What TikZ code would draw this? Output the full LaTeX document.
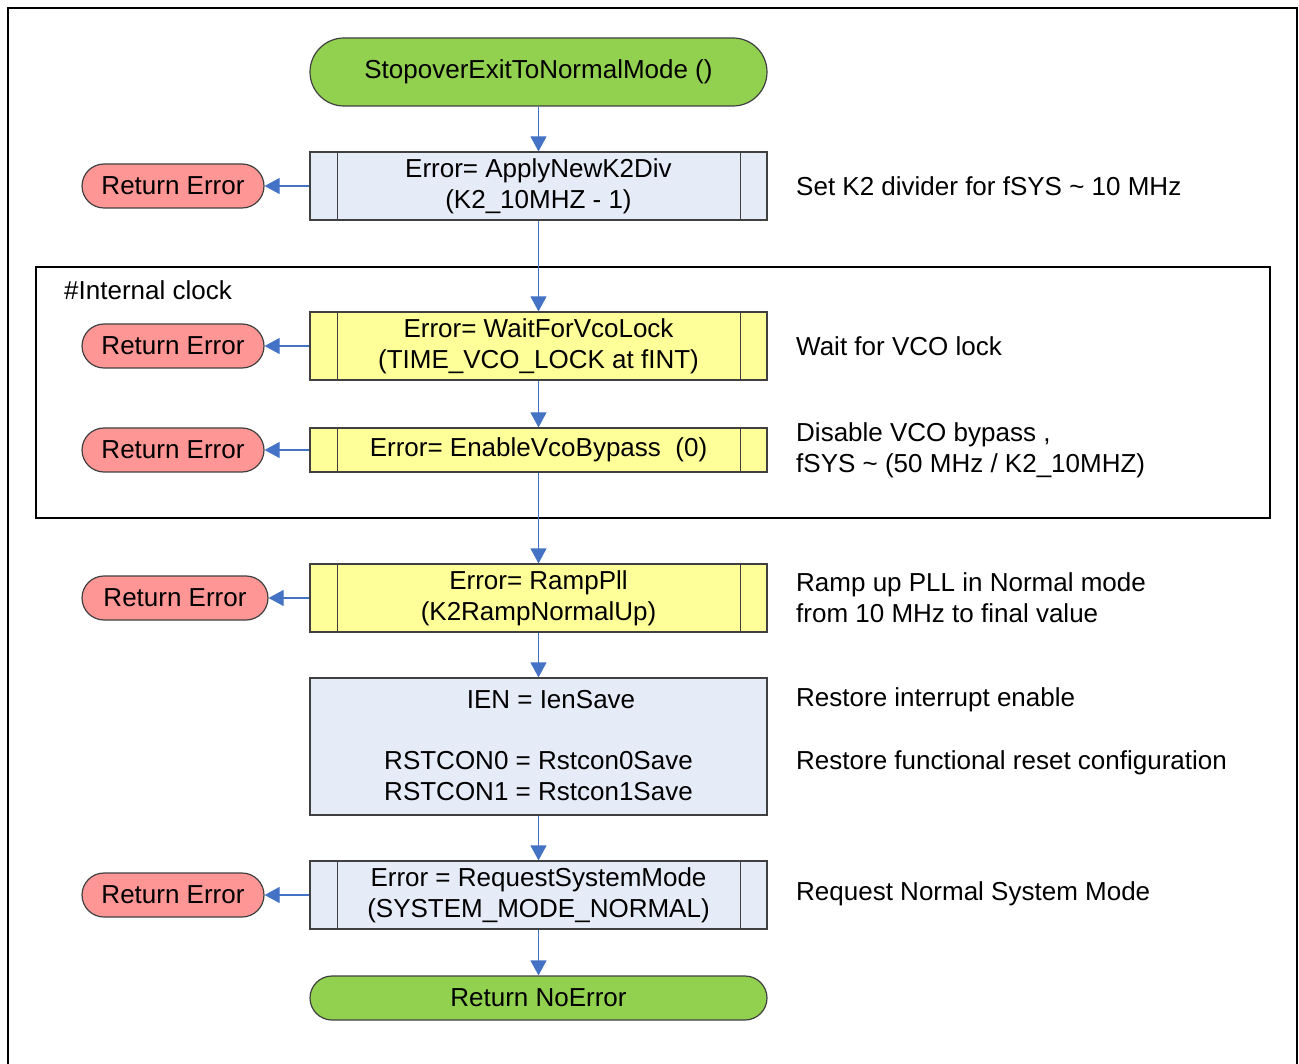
\documentclass[tikz,border=0pt]{standalone}
\usepackage{fontspec}
\setmainfont{Liberation Sans}
\usetikzlibrary{arrows.meta}
\definecolor{termgreen}{RGB}{146,208,80}
\definecolor{errred}{RGB}{255,150,150}
\definecolor{procblue}{RGB}{230,236,247}
\definecolor{procyellow}{RGB}{255,255,153}
\definecolor{linkblue}{RGB}{68,114,196}
\definecolor{edge}{RGB}{64,64,64}
\tikzset{
  every node/.style={font=\fontsize{26}{31}\selectfont, inner sep=0pt},
  terminal/.style={draw=edge, line width=1.2pt, fill=termgreen, minimum width=457pt, align=center},
  errnode/.style={draw=edge, line width=1.2pt, fill=errred, minimum width=182pt, minimum height=44pt, rounded corners=22pt},
  procbox/.style={draw=edge, line width=1.2pt, minimum width=457pt, align=center},
  note/.style={anchor=west, align=left},
  link/.style={draw=linkblue, line width=1.2pt, -{Triangle[length=15pt,width=16pt]}},
  frameline/.style={draw=black, line width=2.6pt}
}
\newcommand{\sidebars}[1]{%
  \draw[edge, line width=1.2pt] ([xshift=28pt]#1.north west) -- ([xshift=28pt]#1.south west);
  \draw[edge, line width=1.2pt] ([xshift=-27pt]#1.north east) -- ([xshift=-27pt]#1.south east);}
\begin{document}
\begin{tikzpicture}[x=1pt, y=-1pt]
\useasboundingbox (0,0) rectangle (1299,1064);
% outer frame, open at the bottom
\draw[frameline] (8,1070) -- (8,8) -- (1297,8) -- (1297,1070);
% internal clock group
\draw[frameline, line width=2pt] (36,267) rectangle (1270,518);
\node[anchor=west] (grp) at (64,290) {\#Internal clock};

% main flow
\node[terminal, minimum height=68pt, rounded corners=34pt] (start) at (538.5,72) {StopoverExitToNormalMode ()};
\node[procbox, fill=procblue, minimum height=68pt] (k2) at (538.5,186) {Error= ApplyNewK2Div\\(K2\_10MHZ - 1)};
\node[procbox, fill=procyellow, minimum height=68pt] (vco) at (538.5,346) {Error= WaitForVcoLock\\(TIME\_VCO\_LOCK at fINT)};
\node[procbox, fill=procyellow, minimum height=44pt] (byp) at (538.5,450) {Error= EnableVcoBypass\ \ (0)};
\node[procbox, fill=procyellow, minimum height=68pt] (pll) at (538.5,598) {Error= RampPll\\(K2RampNormalUp)};
\node[procbox, fill=procblue, minimum height=137pt] (rst) at (538.5,746.5) {};
\node (ien) at (551,700) {IEN = IenSave};
\node[align=center] (rc) at (538.5,776.5) {RSTCON0 = Rstcon0Save\\RSTCON1 = Rstcon1Save};
\node[procbox, fill=procblue, minimum height=68pt] (sys) at (538.5,895) {Error = RequestSystemMode\\(SYSTEM\_MODE\_NORMAL)};
\node[terminal, minimum height=44pt, rounded corners=22pt] (done) at (538.5,998) {Return NoError};

\sidebars{k2}
\sidebars{vco}
\sidebars{byp}
\sidebars{pll}
\sidebars{sys}

% error exits
\node[errnode] (e1) at (173,186) {Return Error};
\node[errnode] (e2) at (173,346) {Return Error};
\node[errnode] (e3) at (173,450) {Return Error};
\node[errnode, minimum width=186pt] (e4) at (175,598) {Return Error};
\node[errnode] (e5) at (173,895) {Return Error};

% connectors
\draw[link] (start) -- (k2);
\draw[link] (k2) -- (vco);
\draw[link] (vco) -- (byp);
\draw[link] (byp) -- (pll);
\draw[link] (pll) -- (rst);
\draw[link] (rst) -- (sys);
\draw[link] (sys) -- (done);
\draw[link] (k2.west) -- (e1.east);
\draw[link] (vco.west) -- (e2.east);
\draw[link] (byp.west) -- (e3.east);
\draw[link] (pll.west) -- (e4.east);
\draw[link] (sys.west) -- (e5.east);

% remarks
\node[note] (n1) at (796,186) {Set K2 divider for fSYS \textasciitilde{} 10 MHz};
\node[note] (n2) at (796,346) {Wait for VCO lock};
\node[note] (n3) at (796,450) {Disable VCO bypass ,\\fSYS \textasciitilde{} (50 MHz / K2\_10MHZ)};
\node[note] (n4) at (796,598) {Ramp up PLL in Normal mode\\from 10 MHz to final value};
\node[note] (n5) at (796,700) {Restore interrupt enable};
\node[note] (n6) at (796,763) {Restore functional reset configuration};
\node[note] (n7) at (796,894) {Request Normal System Mode};
\end{tikzpicture}
\end{document}
